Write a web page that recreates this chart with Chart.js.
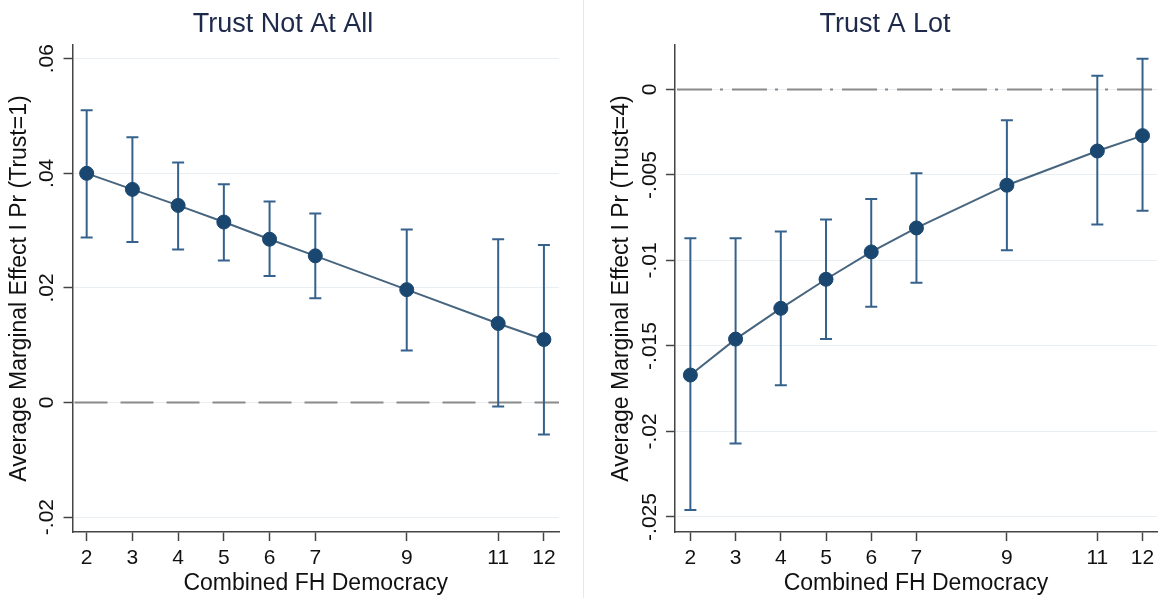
<!DOCTYPE html>
<html>
<head>
<meta charset="utf-8">
<script src="https://cdn.jsdelivr.net/npm/chart.js@4.4.1/dist/chart.umd.min.js"></script>
<style>
  html, body { margin: 0; padding: 0; background: #fff; }
  #wrap { position: relative; width: 1165px; height: 598px; }
  #leftBox { position: absolute; left: 0; top: 0; width: 583px; height: 598px; border-right: 1px solid #e2eaec; }
  #rightBox { position: absolute; left: 584px; top: 0; width: 581px; height: 598px; }
</style>
</head>
<body>
<div id="wrap">
  <div id="leftBox"><canvas id="chartLeft" width="583" height="598"></canvas></div>
  <div id="rightBox"><canvas id="chartRight" width="581" height="598"></canvas></div>
</div>
<script>
// Combined FH Democracy levels
var xVals = [2, 3, 4, 5, 6, 7, 9, 11, 12];

// Trust Not At All (Trust=1)
var notAtAllMean = [0.0400, 0.0372, 0.0344, 0.0315, 0.0285, 0.0256, 0.0197, 0.0138, 0.0110];
var notAtAllLow  = [0.0288, 0.0280, 0.0267, 0.0248, 0.0221, 0.0182, 0.0091, -0.0007, -0.0056];
var notAtAllHigh = [0.0510, 0.0463, 0.0419, 0.0381, 0.0351, 0.0330, 0.0302, 0.0285, 0.0275];

// Trust A Lot (Trust=4)
var aLotMean = [-0.0167, -0.0146, -0.0128, -0.0111, -0.0095, -0.0081, -0.0056, -0.0036, -0.0027];
var aLotLow  = [-0.0246, -0.0207, -0.0173, -0.0146, -0.0127, -0.0113, -0.0094, -0.0079, -0.0071];
var aLotHigh = [-0.0087, -0.0087, -0.0083, -0.0076, -0.0064, -0.0049, -0.0018, 0.0008, 0.0018];

// y tick values and their labels
var leftYTicks  = [-0.02, 0, 0.02, 0.04, 0.06];
var leftYLabels = ['-.02', '0', '.02', '.04', '.06'];
var rightYTicks  = [-0.025, -0.02, -0.015, -0.01, -0.005, 0];
var rightYLabels = ['-.025', '-.02', '-.015', '-.01', '-.005', '0'];

var FONT = '"Liberation Sans", Arial, Helvetica, sans-serif';
var navy = '#1a476f';
var barColor = '#35628d';
var lineColor = '#48657f';
var axisColor = '#444';

function points(ys) {
    return xVals.map(function(x, i) { return { x: x, y: ys[i] }; });
}

// error bars + reference line + rotated y labels + panel title
var stataPlugin = {
    id: 'stata',
    beforeDatasetsDraw: function(chart, args, opts) {
        var ctx = chart.ctx;
        var xs = chart.scales.x, ys = chart.scales.y;
        var area = chart.chartArea;

        // zero line
        ctx.save();
        ctx.strokeStyle = '#8a8a8a';
        ctx.lineWidth = 2;
        ctx.setLineDash(opts.dash);
        var y0 = ys.getPixelForValue(0);
        ctx.beginPath();
        ctx.moveTo(area.left + 2, y0);
        ctx.lineTo(area.right, y0);
        ctx.stroke();
        ctx.restore();

        // confidence intervals
        ctx.save();
        ctx.strokeStyle = barColor;
        ctx.lineWidth = 2;
        xVals.forEach(function(x, i) {
            var px = xs.getPixelForValue(x);
            var lo = ys.getPixelForValue(opts.low[i]);
            var hi = ys.getPixelForValue(opts.high[i]);
            ctx.beginPath();
            ctx.moveTo(px, lo); ctx.lineTo(px, hi);
            ctx.moveTo(px - 6, lo); ctx.lineTo(px + 6, lo);
            ctx.moveTo(px - 6, hi); ctx.lineTo(px + 6, hi);
            ctx.stroke();
        });
        ctx.restore();
    },
    afterDraw: function(chart, args, opts) {
        var ctx = chart.ctx;
        var ys = chart.scales.y;
        var area = chart.chartArea;

        // y tick labels, vertical like Stata
        ctx.save();
        ctx.fillStyle = '#111';
        ctx.font = '21px ' + FONT;
        ctx.textAlign = 'center';
        ctx.textBaseline = 'middle';
        opts.tickValues.forEach(function(v, i) {
            var py = ys.getPixelForValue(v);
            ctx.save();
            ctx.translate(area.left - 25, py);
            ctx.rotate(-Math.PI / 2);
            ctx.fillText(opts.tickLabels[i], 0, 0);
            ctx.restore();
        });
        ctx.restore();

        // panel title
        ctx.save();
        ctx.fillStyle = '#1e2a4a';
        ctx.font = '27px ' + FONT;
        ctx.textAlign = 'center';
        ctx.textBaseline = 'middle';
        ctx.fillText(opts.title, opts.titleX, 25);
        ctx.restore();
    }
};

function makeChart(id, cfg) {
    var ctx = document.getElementById(id).getContext('2d');
    return new Chart(ctx, {
        type: 'scatter',
        data: {
            datasets: [{
                data: points(cfg.mean),
                showLine: true,
                borderColor: lineColor,
                borderWidth: 2,
                pointRadius: 7,
                pointBackgroundColor: navy,
                pointBorderColor: navy,
                pointBorderWidth: 1,
                pointHoverRadius: 7
            }]
        },
        options: {
            responsive: false,
            animation: false,
            devicePixelRatio: 1,
            layout: { padding: { left: 0, right: cfg.padRight, top: 45, bottom: 0 } },
            plugins: {
                legend: { display: false },
                tooltip: { enabled: false },
                stata: {
                    low: cfg.low,
                    high: cfg.high,
                    dash: cfg.dash,
                    tickValues: cfg.yTicks,
                    tickLabels: cfg.yLabels,
                    title: cfg.title,
                    titleX: cfg.titleX
                }
            },
            scales: {
                x: {
                    type: 'linear',
                    min: cfg.xMin,
                    max: cfg.xMax,
                    afterBuildTicks: function(s) { s.ticks = xVals.map(function(v) { return { value: v }; }); },
                    afterFit: function(s) { s.height = 66; },
                    ticks: {
                        autoSkip: false,
                        maxRotation: 0,
                        padding: 5,
                        color: '#111',
                        font: { family: FONT, size: 21 },
                        callback: function(v) { return String(v); }
                    },
                    grid: { drawOnChartArea: false, drawTicks: true, tickLength: 9, tickColor: axisColor, tickWidth: 1.5 },
                    border: { display: true, color: axisColor, width: 1.5 },
                    title: {
                        display: true,
                        text: 'Combined FH Democracy',
                        color: '#111',
                        font: { family: FONT, size: 23 },
                        padding: { top: 0, bottom: 1 }
                    }
                },
                y: {
                    type: 'linear',
                    min: cfg.yMin,
                    max: cfg.yMax,
                    afterBuildTicks: function(s) { s.ticks = cfg.yTicks.map(function(v) { return { value: v }; }); },
                    afterFit: function(s) { s.width = cfg.yWidth; },
                    ticks: { display: false },
                    grid: { color: '#e8eef2', lineWidth: 1, drawTicks: true, tickLength: 9, tickColor: axisColor, tickWidth: 1.5 },
                    border: { display: true, color: axisColor, width: 1.5 },
                    title: {
                        display: true,
                        text: cfg.yTitle,
                        color: '#111',
                        font: { family: FONT, size: 23 },
                        padding: { top: cfg.yTitlePad, bottom: 0 }
                    }
                }
            }
        },
        plugins: [stataPlugin]
    });
}

makeChart('chartLeft', {
    mean: notAtAllMean, low: notAtAllLow, high: notAtAllHigh,
    yTicks: leftYTicks, yLabels: leftYLabels,
    xMin: 1.69, xMax: 12.33, yMin: -0.0226, yMax: 0.0624,
    yWidth: 72.5, padRight: 24, yTitlePad: 6,
    dash: [33, 13],
    title: 'Trust Not At All', titleX: 283,
    yTitle: 'Average Marginal Effect I Pr (Trust=1)'
});

makeChart('chartRight', {
    mean: aLotMean, low: aLotLow, high: aLotHigh,
    yTicks: rightYTicks, yLabels: rightYLabels,
    xMin: 1.66, xMax: 12.32, yMin: -0.02588, yMax: 0.0026,
    yWidth: 91, padRight: 3, yTitlePad: 24,
    dash: [35, 8, 3, 9],
    title: 'Trust A Lot', titleX: 301,
    yTitle: 'Average Marginal Effect I Pr (Trust=4)'
});
</script>
</body>
</html>
